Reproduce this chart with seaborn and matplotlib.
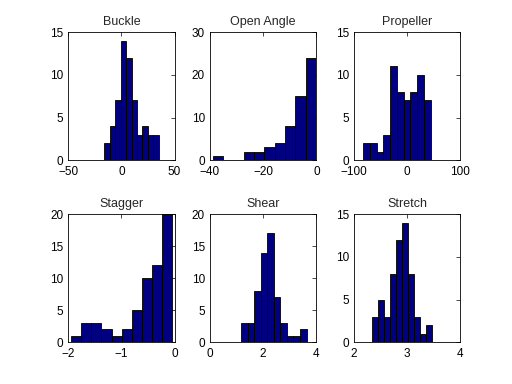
import numpy as np
import pandas as pd
import seaborn as sns
import matplotlib
matplotlib.use('Agg')
import matplotlib.pyplot as plt

titles = ['Buckle', 'Open Angle', 'Propeller', 'Stagger', 'Shear', 'Stretch']

# 10-bin histograms: data range and counts per bin
buckle_range = [-15.9, 35.0]
buckle_counts = [2, 4, 7, 14, 12, 7, 3, 4, 3, 3]
open_range = [-39.0, -0.1]
open_counts = [1, 0, 0, 2, 2, 3, 4, 8, 15, 24]
prop_range = [-82.7, 44.3]
prop_counts = [2, 2, 1, 3, 11, 8, 7, 8, 10, 7]
stagger_range = [-1.94, -0.05]
stagger_counts = [1, 3, 3, 2, 1, 2, 5, 10, 12, 20]
shear_range = [1.17, 3.63]
shear_counts = [3, 3, 8, 14, 17, 7, 3, 1, 1, 2]
stretch_range = [2.34, 3.46]
stretch_counts = [3, 5, 3, 8, 12, 14, 8, 3, 1, 2]

xlims = [(-50, 50), (-40, 0), (-100, 100), (-2, 0), (0, 4), (2, 4)]
xticks = [[-50, 0, 50], [-40, -20, 0], [-100, 0, 100], [-2, -1, 0], [0, 2, 4], [2, 3, 4]]
ylims = [15, 30, 15, 20, 20, 15]
yticks = [[0, 5, 10, 15], [0, 10, 20, 30], [0, 5, 10, 15],
          [0, 5, 10, 15, 20], [0, 5, 10, 15, 20], [0, 5, 10, 15]]

ranges = [buckle_range, open_range, prop_range, stagger_range, shear_range, stretch_range]
counts = [buckle_counts, open_counts, prop_counts, stagger_counts, shear_counts, stretch_counts]

sns.set_style('white')
plt.rcParams['font.family'] = ['Liberation Sans', 'DejaVu Sans']
plt.rcParams['font.size'] = 8

fig = plt.figure(figsize=(5.12, 3.84), dpi=100)
lefts = [0.133, 0.410, 0.691]
bottoms = [0.583, 0.109]

for i in range(6):
    ax = fig.add_axes([lefts[i % 3], bottoms[i // 3], 0.208, 0.333])
    edges = np.linspace(ranges[i][0], ranges[i][1], 11)
    df = pd.DataFrame({'x': (edges[:-1] + edges[1:]) / 2, 'n': counts[i]})
    sns.histplot(data=df, x='x', weights='n', bins=list(edges), ax=ax,
                 color='#000080', edgecolor='black', linewidth=0.6, alpha=1)
    ax.set_xlim(*xlims[i])
    ax.set_ylim(0, ylims[i])
    ax.set_xticks(xticks[i])
    ax.set_yticks(yticks[i])
    ax.set_xlabel('')
    ax.set_ylabel('')
    ax.set_title(titles[i], fontsize=9, pad=5)
    ax.tick_params(direction='in', length=3, width=0.5, top=True, right=True,
                   labelsize=8.5, colors='black')
    ax.tick_params(axis='x', pad=4.5)
    ax.tick_params(axis='y', pad=3.5)
    for s in ax.spines.values():
        s.set_visible(True)
        s.set_color('black')
        s.set_linewidth(0.6)

fig.savefig('out.png', dpi=100)
